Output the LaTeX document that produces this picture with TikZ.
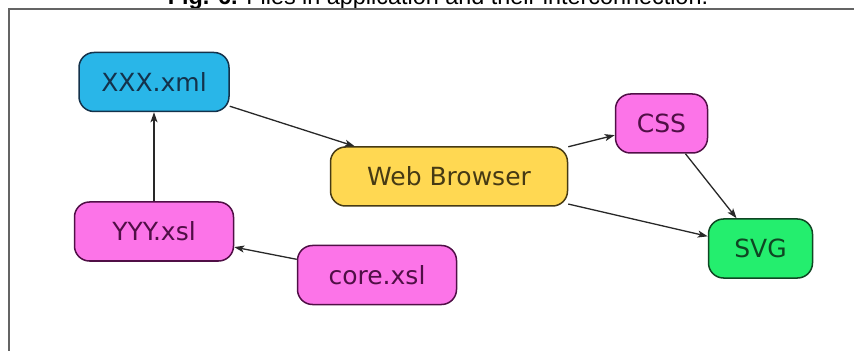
\documentclass[tikz,border=0pt]{standalone}
\usepackage{fontspec}
\usetikzlibrary{arrows.meta}
\newfontfamily\boxfont{DejaVu Sans}
\newfontfamily\capfont{Liberation Sans}

\definecolor{xmlfill}{RGB}{41,182,232}
\definecolor{xmlline}{RGB}{20,50,75}
\definecolor{webfill}{RGB}{255,216,82}
\definecolor{webline}{RGB}{70,58,20}
\definecolor{xslfill}{RGB}{252,116,232}
\definecolor{xslline}{RGB}{80,15,70}
\definecolor{svgfill}{RGB}{36,238,110}
\definecolor{svgline}{RGB}{15,70,35}
\definecolor{framegray}{RGB}{100,100,100}
\definecolor{edgegray}{RGB}{40,40,40}

\tikzset{
  filebox/.style={draw, line width=1.5pt, rounded corners=15pt,
    minimum height=59pt, inner sep=0pt,
    font=\boxfont\fontsize{25}{30}\selectfont},
  xmlbox/.style={filebox, fill=xmlfill, draw=xmlline, text=xmlline},
  webbox/.style={filebox, fill=webfill, draw=webline, text=webline},
  xslbox/.style={filebox, fill=xslfill, draw=xslline, text=xslline},
  svgbox/.style={filebox, fill=svgfill, draw=svgline, text=svgline},
  link/.style={draw=edgegray, line width=1.3pt,
    -{Stealth[length=10pt, width=7pt, inset=2.5pt]}},
  frameline/.style={draw=framegray, line width=2pt}
}

\begin{document}
\begin{tikzpicture}[x=1pt, y=1pt]
  \useasboundingbox (0,0) rectangle (854,351);

  % caption, cut by the top of the page
  \begin{scope}
    \clip (0,0) rectangle (854,351);
    \node[anchor=base, inner sep=0pt, font=\capfont\fontsize{23.4}{28}\selectfont]
      (caption) at (438,346.3)
      {\textbf{Fig. 6.} Files in application and their interconnection.};
  \end{scope}

  % open frame: top and left edges only
  \coordinate (frametr) at (854,342);
  \coordinate (frametl) at (8.5,342);
  \coordinate (framebl) at (8.5,0);
  \draw[frameline] (frametr) -- (frametl) -- (framebl);

  % files
  \node[xmlbox, minimum width=150pt] (xxx)  at (154,269)     {XXX.xml};
  \node[webbox, minimum width=237pt] (web)  at (449,174.5)   {Web Browser};
  \node[xslbox, minimum width=92pt]  (css)  at (661.5,227.5) {CSS};
  \node[svgbox, minimum width=104pt] (svg)  at (760.5,102.5) {SVG};
  \node[xslbox, minimum width=159pt] (yyy)  at (154,119.5)   {YYY.xsl};
  \node[xslbox, minimum width=159pt] (core) at (377,76)      {core.xsl};

  % interconnections
  \draw[link] (yyy) -- (xxx);
  \draw[link] (core) -- (yyy);
  \draw[link] (xxx) -- (web);
  \draw[link] (web) -- (css);
  \draw[link] (web) -- (svg);
  \draw[link] (css) -- (svg);
\end{tikzpicture}
\end{document}
